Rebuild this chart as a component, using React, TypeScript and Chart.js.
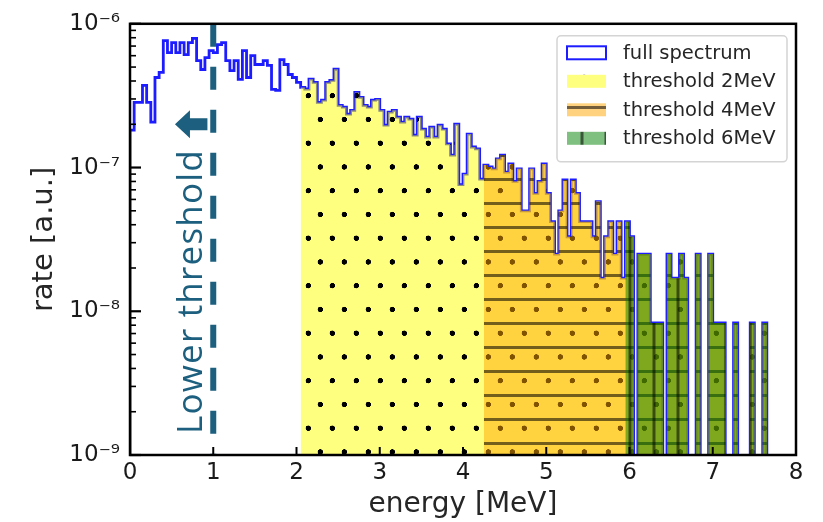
import { useEffect, useRef } from "react";
import { Chart, registerables } from "chart.js";

Chart.register(...registerables);

// ---------------- data ----------------
const BIN_WIDTH = 0.05; // MeV, histogram bins starting at 0 MeV
// full spectrum rate per bin, in units of 1e-9 [a.u.]
const spectrumNano = [
  182, 284, 284, 373, 284, 207, 423, 459, 763, 630,
  739, 630, 739, 611, 739, 791, 555, 481, 582, 651,
  630, 716, 739, 555, 473, 555, 410, 651, 423, 601,
  521, 521, 555, 513, 350, 344, 564, 521, 444, 423,
  391, 361, 352, 412, 391, 284, 294, 391, 404, 483,
  271, 263, 235, 250, 333, 308, 271, 263, 294, 298,
  250, 197, 243, 250, 224, 207, 224, 217, 168, 224,
  185, 163, 191, 163, 197, 185, 146, 122, 200, 76,
  90, 171, 139, 135, 83, 104, 101, 98, 115, 122,
  93, 106, 80, 98, 50, 50, 98, 66, 80, 106,
  66, 42, 25, 50, 82, 33, 82, 66, 42, 42,
  42, 33, 58, 17, 33, 42, 25, 42, 17, 42,
  33, 0, 25, 25, 25, 8.3, 8.3, 8.3, 0, 25,
  17, 17, 25, 17, 0, 0, 25, 0, 0, 25,
  8.3, 8.3, 8.3, 0, 0, 8.3, 0, 0, 0, 8.3,
  0, 0, 8.3,
];
const seriesLabels = ["full spectrum", "threshold 2MeV", "threshold 4MeV", "threshold 6MeV"];
const thresholdStart = [2.05, 4.25, 5.95]; // MeV, first bin of each threshold histogram
const xTicks = [0, 1, 2, 3, 4, 5, 6, 7, 8];
const yDecades = [-9, -8, -7, -6];
const lowerThreshold = 1; // MeV
const annotationText = "Lower threshold";
const arrowFrom = 0.93; // MeV
const arrowTo = 0.54; // MeV
const arrowRate = 2e-7;
const textX = 0.865; // MeV (baseline of the rotated text)
const textRate = 1.4e-9; // where the text starts

// ---------------- styling ----------------
const FONT = "'DejaVu Sans', sans-serif";
const TEAL = "#1d5f7e";
const BLUE = "#1c1cff";
const FLOOR = 1e-13;
const SUP: Record<string, string> = {
  "-": "\u207B", "0": "\u2070", "1": "\u00B9", "2": "\u00B2", "3": "\u00B3",
  "4": "\u2074", "5": "\u2075", "6": "\u2076", "7": "\u2077", "8": "\u2078", "9": "\u2079",
};

function stepPoints(fromBin: number) {
  const pts: { x: number; y: number }[] = [{ x: fromBin * BIN_WIDTH, y: FLOOR }];
  for (let k = fromBin; k < spectrumNano.length; k++) {
    const v = spectrumNano[k];
    pts.push({ x: k * BIN_WIDTH, y: v > 0 ? v * 1e-9 : FLOOR });
  }
  pts.push({ x: spectrumNano.length * BIN_WIDTH, y: FLOOR });
  return pts;
}

function makePattern(
  ctx: CanvasRenderingContext2D,
  w: number,
  h: number,
  base: string,
  draw: (g: CanvasRenderingContext2D, S: number) => void,
  ox: number,
  oy: number
) {
  const S = 4;
  const c = document.createElement("canvas");
  c.width = Math.round(w * S);
  c.height = Math.round(h * S);
  const g = c.getContext("2d")!;
  g.fillStyle = base;
  g.fillRect(0, 0, c.width, c.height);
  draw(g, S);
  const p = ctx.createPattern(c, "repeat")!;
  p.setTransform(new DOMMatrix().translate(ox, oy).scale(1 / S));
  return p;
}

function makePatterns(ctx: CanvasRenderingContext2D) {
  const dots = makePattern(
    ctx, 24, 47.5, "rgba(255,255,0,0.5)",
    (g, S) => {
      g.fillStyle = "rgba(0,0,0,1)";
      for (const [cx, cy] of [[6, 11.875], [18, 35.625]]) {
        g.beginPath();
        g.arc(cx * S, cy * S, 2.7 * S, 0, Math.PI * 2);
        g.fill();
      }
    },
    14.3, 36.3
  );
  const hlines = makePattern(
    ctx, 24, 24, "rgba(255,165,0,0.5)",
    (g, S) => {
      g.fillStyle = "rgba(0,0,0,0.55)";
      g.fillRect(0, (12 - 1.5) * S, 24 * S, 3 * S);
    },
    0, 23.3
  );
  const vlines = makePattern(
    ctx, 24, 24, "rgba(0,128,0,0.5)",
    (g, S) => {
      g.fillStyle = "rgba(0,0,0,0.55)";
      g.fillRect((12 - 1.5) * S, 0, 3 * S, 24 * S);
    },
    18, 0
  );
  return [dots, hlines, vlines];
}

function supLabel(d: number) {
  return "10" + String(d).split("").map((c) => SUP[c] ?? c).join("");
}

export default function App() {
  const ref = useRef<HTMLCanvasElement>(null);

  useEffect(() => {
    const canvas = ref.current!;
    const ctx = canvas.getContext("2d")!;
    const patterns = makePatterns(ctx);

    const decor = {
      id: "decor",
      afterDatasetsDraw(chart: any) {
        const { ctx: c, chartArea: a, scales } = chart;
        const xs = scales.x;
        const ys = scales.y;
        c.save();

        // dashed lower-threshold line
        const lx = xs.getPixelForValue(lowerThreshold);
        c.beginPath();
        c.setLineDash([23, 20]);
        c.strokeStyle = TEAL;
        c.lineWidth = 6;
        c.moveTo(lx, a.top);
        c.lineTo(lx, a.bottom);
        c.stroke();
        c.setLineDash([]);

        // arrow
        const ay = ys.getPixelForValue(arrowRate);
        const tailX = xs.getPixelForValue(arrowFrom);
        const tipX = xs.getPixelForValue(arrowTo);
        const headLen = 15;
        c.fillStyle = TEAL;
        c.beginPath();
        c.moveTo(tipX, ay);
        c.lineTo(tipX + headLen, ay - 14);
        c.lineTo(tipX + headLen, ay - 6);
        c.lineTo(tailX, ay - 6);
        c.lineTo(tailX, ay + 6);
        c.lineTo(tipX + headLen, ay + 6);
        c.lineTo(tipX + headLen, ay + 14);
        c.closePath();
        c.fill();

        // rotated text
        c.save();
        c.translate(xs.getPixelForValue(textX), ys.getPixelForValue(textRate));
        c.rotate(-Math.PI / 2);
        c.font = "35px 'Open Sans', sans-serif";
        (c as any).letterSpacing = "1.2px";
        c.fillStyle = TEAL;
        c.textAlign = "left";
        c.textBaseline = "alphabetic";
        c.fillText(annotationText, 0, 0);
        c.restore();

        // ticks (inward)
        c.strokeStyle = "#000";
        for (const v of xTicks) {
          const px = xs.getPixelForValue(v);
          c.lineWidth = 2;
          c.beginPath();
          c.moveTo(px, a.bottom);
          c.lineTo(px, a.bottom - 8);
          c.stroke();
        }
        for (const d of yDecades) {
          for (let m = 1; m <= 9; m++) {
            const val = m * Math.pow(10, d);
            if (val > 1.0001e-6) break;
            const py = ys.getPixelForValue(val);
            const major = m === 1;
            c.lineWidth = major ? 2.2 : 1.6;
            c.beginPath();
            c.moveTo(a.left, py);
            c.lineTo(a.left + (major ? 11 : 6), py);
            c.stroke();
          }
        }

        // frame
        c.lineWidth = 2.5;
        c.strokeRect(a.left, a.top, a.right - a.left, a.bottom - a.top);

        // legend
        const bx = a.right - 239;
        const by = a.top + 12;
        const bw = 230;
        const bh = 126;
        c.beginPath();
        c.roundRect(bx, by, bw, bh, 4);
        c.fillStyle = "rgba(255,255,255,0.85)";
        c.fill();
        c.strokeStyle = "#d4d4d4";
        c.lineWidth = 1.5;
        c.stroke();
        const fills = [null, ...patterns];
        seriesLabels.forEach((lab, i) => {
          const cy = by + 17 + i * 28.5;
          const mx = bx + 10;
          if (i === 0) {
            c.fillStyle = "#fff";
            c.fillRect(mx, cy - 6.5, 39, 13);
            c.strokeStyle = BLUE;
            c.lineWidth = 2;
            c.strokeRect(mx, cy - 6.5, 39, 13);
          } else {
            c.fillStyle = fills[i] as any;
            c.fillRect(mx, cy - 6.5, 39, 13);
          }
          c.fillStyle = "#262626";
          c.font = `19.5px ${FONT}`;
          c.textAlign = "left";
          c.textBaseline = "middle";
          c.fillText(lab, bx + 66, cy + 1);
        });

        c.restore();
      },
    };

    const chart = new Chart(canvas, {
      type: "line",
      data: {
        datasets: [
          {
            label: seriesLabels[0],
            data: stepPoints(0),
            stepped: "before",
            borderColor: BLUE,
            borderWidth: 2.8,
            pointRadius: 0,
            fill: false,
            order: 4,
            clip: 0,
          },
          ...thresholdStart.map((t, i) => ({
            label: seriesLabels[i + 1],
            data: stepPoints(Math.round(t / BIN_WIDTH)),
            stepped: "before" as const,
            borderWidth: 0,
            borderColor: "rgba(0,0,0,0)",
            backgroundColor: patterns[i] as any,
            pointRadius: 0,
            fill: "start" as const,
            order: 3 - i,
            clip: 0,
          })),
        ],
      },
      options: {
        animation: false,
        responsive: false,
        devicePixelRatio: 1,
        events: [],
        layout: { padding: { top: 21, right: 27, left: 0, bottom: 0 } },
        plugins: {
          legend: { display: false },
          tooltip: { enabled: false },
        },
        scales: {
          x: {
            type: "linear",
            min: 0,
            max: 8,
            grid: { display: false, drawTicks: false },
            border: { display: false },
            afterBuildTicks: (s: any) => {
              s.ticks = xTicks.map((v) => ({ value: v }));
            },
            ticks: {
              autoSkip: false,
              maxRotation: 0,
              padding: 4,
              color: "#1a1a1a",
              font: { family: FONT, size: 23 },
              callback: (v: any) => String(v),
            },
            title: {
              display: true,
              text: "energy [MeV]",
              color: "#262626",
              font: { family: FONT, size: 28 },
              padding: { top: 0, bottom: 0 },
            },
            afterFit: (s: any) => {
              s.height = 67;
            },
          },
          y: {
            type: "logarithmic",
            min: 1e-9,
            max: 1e-6,
            grid: { display: false, drawTicks: false },
            border: { display: false },
            afterBuildTicks: (s: any) => {
              s.ticks = yDecades.map((d) => ({ value: Math.pow(10, d) }));
            },
            ticks: {
              autoSkip: false,
              padding: 10,
              color: "#1a1a1a",
              font: { family: FONT, size: 23 },
              callback: (v: any) => supLabel(Math.round(Math.log10(Number(v)))),
            },
            title: {
              display: true,
              text: "rate [a.u.]",
              color: "#262626",
              font: { family: FONT, size: 29 },
              padding: { top: 27, bottom: 0 },
            },
            afterFit: (s: any) => {
              s.width = 130;
            },
          },
        },
      },
      plugins: [decor],
    } as any);

    return () => chart.destroy();
  }, []);

  return (
    <div style={{ position: "fixed", left: 0, top: 0, width: 823, height: 522, background: "#fff" }}>
      <canvas ref={ref} width={823} height={522} style={{ width: 823, height: 522, display: "block" }} />
    </div>
  );
}
